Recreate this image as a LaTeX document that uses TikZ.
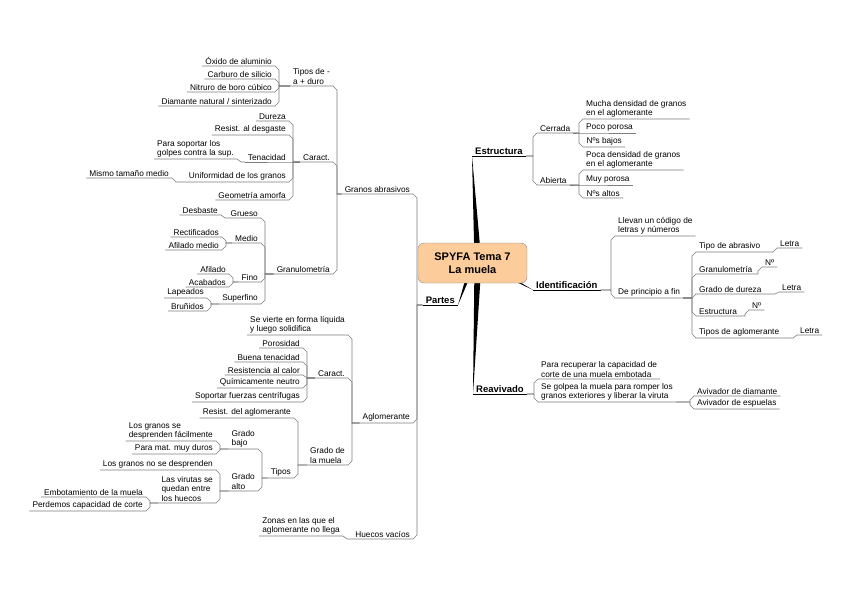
\documentclass[tikz,border=0pt]{standalone}
\usepackage{fontspec}
\setmainfont{Liberation Sans}
\usetikzlibrary{backgrounds}
\definecolor{rootfill}{RGB}{252,204,155}
\definecolor{linegray}{RGB}{125,125,125}

\begin{document}
\begin{tikzpicture}[x=1pt, y=-1pt,
                    every node/.style={inner xsep=3pt, inner ysep=1.5pt, align=left, font=\fontsize{8.3}{9.5}\selectfont},
                    ltopic/.style={anchor=south east},
                    rtopic/.style={anchor=south west},
                    main/.style={font=\fontsize{9.5}{11}\selectfont\bfseries},
                    every edge/.style={draw, linegray, line width=0.6pt},
                    lk/.style={to path={(\tikztostart.south west) -- (\tikztostart.south east) -- ++(4,#1) |- (\tikztotarget.south west)}},
                    rk/.style={to path={(\tikztostart.south east) -- (\tikztostart.south west) -- ++(-4,#1) |- (\tikztotarget.south east)}}]
    \useasboundingbox (0,0) rectangle (848,599);

    % Define nodes
    \node[draw=black!45, fill=rootfill, rounded corners=6pt, minimum width=109pt, minimum height=40pt,
          align=center, font=\fontsize{11}{13}\selectfont\bfseries] (root) at (472.5,263) {SPYFA Tema 7\\La muela}; % Central topic

    % Left side: Partes
    \node[ltopic, main] (partes) at (458,305) {Partes};
    \node[ltopic] (granos) at (413,194) {Granos abrasivos};
    \node[ltopic] (aglom) at (413,423) {Aglomerante};
    \node[ltopic] (huecos) at (413,539) {Huecos vacíos};

    \node[ltopic] (tiposdur) at (333,86) {Tipos de -\\a + duro};
    \node[ltopic] (caractg) at (333,162) {Caract.};
    \node[ltopic] (granulo) at (333,274) {Granulometría};

    \node[ltopic] (oxido) at (275,66) {Óxido de aluminio};
    \node[ltopic] (carburo) at (275,79) {Carburo de silicio};
    \node[ltopic] (nitruro) at (275,92) {Nitruro de boro cúbico};
    \node[ltopic] (diamante) at (275,106) {Diamante natural / sinterizado};

    \node[ltopic] (dureza) at (289,121) {Dureza};
    \node[ltopic] (desgaste) at (289,135) {Resist. al desgaste};
    \node[ltopic] (tenac) at (289,162) {Tenacidad};
    \node[ltopic] (uniform) at (289,182) {Uniformidad de los granos};
    \node[ltopic] (geom) at (289,200) {Geometría amorfa};
    \node[ltopic] (golpes) at (237,159) {Para soportar los\\golpes contra la sup.};
    \node[ltopic] (mismo) at (172,178) {Mismo tamaño medio};

    \node[ltopic] (grueso) at (261,218) {Grueso};
    \node[ltopic] (medio) at (261,243) {Medio};
    \node[ltopic] (fino) at (261,282) {Fino};
    \node[ltopic] (superfino) at (261,304) {Superfino};
    \node[ltopic] (desbaste) at (221,215) {Desbaste};
    \node[ltopic] (rectif) at (222,237) {Rectificados};
    \node[ltopic] (afmedio) at (222,250) {Afilado medio};
    \node[ltopic] (afilado) at (229,274) {Afilado};
    \node[ltopic] (acabados) at (229,287) {Acabados};
    \node[ltopic] (lapeados) at (207,298) {Lapeados};
    \node[ltopic] (brunidos) at (207,311) {Bruñidos};

    \node[ltopic] (vierte) at (348,335) {Se vierte en forma líquida\\y luego solidifica};
    \node[ltopic] (caracta) at (348,378) {Caract.};
    \node[ltopic] (gradom) at (348,465) {Grado de\\la muela};
    \node[ltopic] (porosidad) at (303,348) {Porosidad};
    \node[ltopic] (buenat) at (303,362) {Buena tenacidad};
    \node[ltopic] (calor) at (303,375) {Resistencia al calor};
    \node[ltopic] (quimica) at (303,388) {Químicamente neutro};
    \node[ltopic] (fuerzas) at (303,402) {Soportar fuerzas centrífugas};

    \node[ltopic] (resaglom) at (294,418) {Resist. del aglomerante};
    \node[ltopic] (tiposg) at (294,478) {Tipos};
    \node[ltopic] (gbajo) at (258,449) {Grado\\bajo};
    \node[ltopic] (galto) at (258,491) {Grado\\alto};
    \node[ltopic] (facil) at (216,441) {Los granos se\\desprenden fácilmente};
    \node[ltopic] (duros) at (216,454) {Para mat. muy duros};
    \node[ltopic] (nodesp) at (216,470) {Los granos no se desprenden};
    \node[ltopic] (virutas) at (216,503) {Las virutas se\\quedan entre\\los huecos};
    \node[ltopic] (embot) at (146,497) {Embotamiento de la muela};
    \node[ltopic] (perdemos) at (146,511) {Perdemos capacidad de corte};
    \node[ltopic] (zonas) at (343,536) {Zonas en las que el\\aglomerante no llega};

    % Right side: Estructura, Identificación, Reavivado
    \node[rtopic, main] (estructura) at (472,156) {Estructura};
    \node[rtopic] (cerrada) at (537,133) {Cerrada};
    \node[rtopic] (abierta) at (537,185) {Abierta};
    \node[rtopic] (mucha) at (583,119) {Mucha densidad de granos\\en el aglomerante};
    \node[rtopic, minimum width=48pt] (pocop) at (583,133) {Poco porosa};
    \node[rtopic, minimum width=42pt] (nbajos) at (583,147) {Nºs bajos};
    \node[rtopic] (poca) at (583,170) {Poca densidad de granos\\en el aglomerante};
    \node[rtopic, minimum width=44pt] (muyp) at (583,185) {Muy porosa};
    \node[rtopic, minimum width=40pt] (naltos) at (583,198) {Nºs altos};

    \node[rtopic, main] (identif) at (533,290) {Identificación};
    \node[rtopic] (llevan) at (615,236) {Llevan un código de\\letras y números};
    \node[rtopic] (deprin) at (615,298) {De principio a fin};
    \node[rtopic] (tipoab) at (696,252) {Tipo de abrasivo};
    \node[rtopic] (granul) at (696,274) {Granulometría};
    \node[rtopic] (gdureza) at (696,294) {Grado de dureza};
    \node[rtopic] (estruc) at (696,316) {Estructura};
    \node[rtopic] (tiposag) at (696,338) {Tipos de aglomerante};
    \node[rtopic] (letraa) at (777,248) {Letra};
    \node[rtopic] (nroa) at (762,267) {Nº};
    \node[rtopic] (letrab) at (779,292) {Letra};
    \node[rtopic] (nrob) at (749,310) {Nº};
    \node[rtopic] (letrac) at (797,335) {Letra};

    \node[rtopic, main] (reaviv) at (473,394) {Reavivado};
    \node[rtopic] (recup) at (538,379) {Para recuperar la capacidad de\\corte de una muela embotada};
    \node[rtopic] (golpea) at (538,402) {Se golpea la muela para romper los\\granos exteriores y liberar la viruta};
    \node[rtopic] (avdiam) at (694,396) {Avivador de diamante};
    \node[rtopic] (avesp) at (694,409) {Avivador de espuelas};

    % Main branches
    \begin{scope}[on background layer]
        \fill (estructura.south west) -- ([xshift=2pt]root.center) -- ([xshift=9pt]root.center) -- cycle;
        \fill (reaviv.south west) -- ([xshift=2pt]root.center) -- ([xshift=9pt]root.center) -- cycle;
        \fill (partes.south east) -- ([xshift=-2.5pt]root.center) -- ([xshift=3.5pt]root.center) -- cycle;
        \fill (identif.south west) -- ([yshift=9pt]root.center) -- ([yshift=2pt]root.center) -- cycle;
    \end{scope}
    \draw[line width=0.6pt] (partes.south west) -- (partes.south east);
    \draw[line width=0.6pt] (estructura.south west) -- (estructura.south east);
    \draw[line width=0.6pt] (identif.south west) -- (identif.south east);
    \draw[line width=0.6pt] (reaviv.south west) -- (reaviv.south east);

    % Define edges (left)
    \path (granos) edge[lk=4] (partes);
    \path (aglom) edge[lk=-4] (partes);
    \path (huecos) edge[lk=-4] (partes);
    \path (tiposdur) edge[lk=4] (granos);
    \path (caractg) edge[lk=4] (granos);
    \path (granulo) edge[lk=-4] (granos);
    \path (oxido) edge[lk=4] (tiposdur);
    \path (carburo) edge[lk=4] (tiposdur);
    \path (nitruro) edge[lk=-4] (tiposdur);
    \path (diamante) edge[lk=-4] (tiposdur);
    \path (dureza) edge[lk=4] (caractg);
    \path (desgaste) edge[lk=4] (caractg);
    \path (tenac) edge[lk=0] (caractg);
    \path (uniform) edge[lk=-4] (caractg);
    \path (geom) edge[lk=-4] (caractg);
    \path (golpes) edge[lk=3] (tenac);
    \path (mismo) edge[lk=4] (uniform);
    \path (grueso) edge[lk=4] (granulo);
    \path (medio) edge[lk=4] (granulo);
    \path (fino) edge[lk=-4] (granulo);
    \path (superfino) edge[lk=-4] (granulo);
    \path (desbaste) edge[lk=3] (grueso);
    \path (rectif) edge[lk=4] (medio);
    \path (afmedio) edge[lk=-4] (medio);
    \path (afilado) edge[lk=4] (fino);
    \path (acabados) edge[lk=-4] (fino);
    \path (lapeados) edge[lk=4] (superfino);
    \path (brunidos) edge[lk=-4] (superfino);
    \path (vierte) edge[lk=4] (aglom);
    \path (caracta) edge[lk=4] (aglom);
    \path (gradom) edge[lk=-4] (aglom);
    \path (porosidad) edge[lk=4] (caracta);
    \path (buenat) edge[lk=4] (caracta);
    \path (calor) edge[lk=3] (caracta);
    \path (quimica) edge[lk=-4] (caracta);
    \path (fuerzas) edge[lk=-4] (caracta);
    \path (resaglom) edge[lk=4] (gradom);
    \path (tiposg) edge[lk=-4] (gradom);
    \path (gbajo) edge[lk=4] (tiposg);
    \path (galto) edge[lk=-4] (tiposg);
    \path (facil) edge[lk=4] (gbajo);
    \path (duros) edge[lk=-4] (gbajo);
    \path (nodesp) edge[lk=4] (galto);
    \path (virutas) edge[lk=-4] (galto);
    \path (embot) edge[lk=4] (virutas);
    \path (perdemos) edge[lk=-4] (virutas);
    \path (zonas) edge[lk=3] (huecos);

    % Define edges (right)
    \path (cerrada) edge[rk=4] (estructura);
    \path (abierta) edge[rk=-4] (estructura);
    \path (mucha) edge[rk=4] (cerrada);
    \path (pocop) edge[rk=0] (cerrada);
    \path (nbajos) edge[rk=-4] (cerrada);
    \path (poca) edge[rk=4] (abierta);
    \path (muyp) edge[rk=0] (abierta);
    \path (naltos) edge[rk=-4] (abierta);
    \path (llevan) edge[rk=4] (identif);
    \path (deprin) edge[rk=-4] (identif);
    \path (tipoab) edge[rk=4] (deprin);
    \path (granul) edge[rk=4] (deprin);
    \path (gdureza) edge[rk=4] (deprin);
    \path (estruc) edge[rk=-4] (deprin);
    \path (tiposag) edge[rk=-4] (deprin);
    \path (letraa) edge[rk=4] (tipoab);
    \path (nroa) edge[rk=4] (granul);
    \path (letrab) edge[rk=2] (gdureza);
    \path (nrob) edge[rk=4] (estruc);
    \path (letrac) edge[rk=3] (tiposag);
    \path (recup) edge[rk=4] (reaviv);
    \path (golpea) edge[rk=-4] (reaviv);
    \path (avdiam) edge[rk=4] (golpea);
    \path (avesp) edge[rk=-4] (golpea);
\end{tikzpicture}
\end{document}
